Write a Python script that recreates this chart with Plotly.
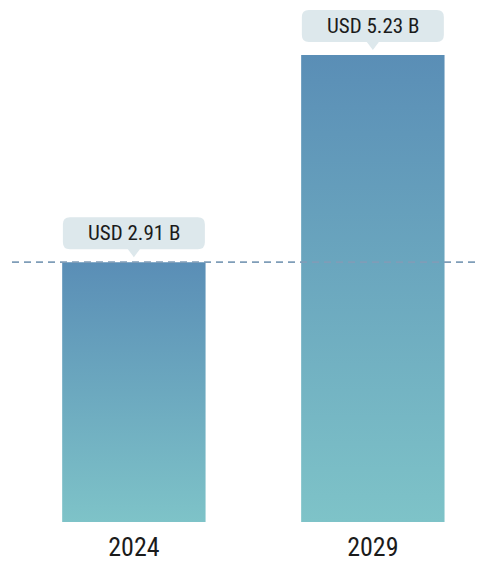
import plotly.graph_objects as go

years = ["2024", "2029"]
values = [2.91, 5.23]
labels = ["USD 2.91 B", "USD 5.23 B"]

BAR_TOP = "#5a8eb6"
BAR_BOTTOM = "#7ec3c8"
BOX_BG = "#dde8ec"
FONT = "Liberation Sans Narrow, Roboto Condensed, Roboto, sans-serif"

fig = go.Figure()
half = 0.3
for i, (yr, v) in enumerate(zip(years, values)):
    fig.add_trace(go.Scatter(
        x=[i - half, i - half, i + half, i + half, i - half],
        y=[0, v, v, 0, 0],
        mode="lines",
        line=dict(width=0),
        fill="toself",
        fillgradient=dict(type="vertical",
                          colorscale=[[0, BAR_BOTTOM], [1, BAR_TOP]]),
        hoverinfo="skip",
        showlegend=False,
        name=yr,
    ))

# reference dashed line at the first value
fig.add_shape(type="line", xref="paper", x0=0, x1=1, yref="y",
              y0=values[0], y1=values[0],
              line=dict(color="#7f9db8", width=1.6, dash="7px,5px"), layer="above")

# label callouts (rounded box + pointer), pixel-sized, anchored on bar tops
w, b, t, r, pw, ph = 71, 13, 45, 7, 6, 8
path = (f"M {-w + r},{b} L {-pw},{b} L 0,{b - ph} L {pw},{b} L {w - r},{b} "
        f"Q {w},{b} {w},{b + r} L {w},{t - r} Q {w},{t} {w - r},{t} "
        f"L {-w + r},{t} Q {-w},{t} {-w},{t - r} L {-w},{b + r} Q {-w},{b} {-w + r},{b} Z")
for i, (v, lab) in enumerate(zip(values, labels)):
    fig.add_shape(type="path", xref="x", yref="y", xsizemode="pixel", ysizemode="pixel",
                  xanchor=i, yanchor=v, path=path, fillcolor=BOX_BG,
                  line=dict(width=0), layer="above")
    fig.add_annotation(x=i, y=v, xref="x", yref="y", text=lab, showarrow=False,
                       yshift=29, font=dict(family=FONT, size=21, color="#1b1b1b"))

fig.update_layout(
    width=479, height=554,
    margin=dict(l=4, r=9, t=0, b=40),
    paper_bgcolor="white", plot_bgcolor="white",
    xaxis=dict(range=[-0.51, 1.44], tickvals=[0, 1], ticktext=years,
               showgrid=False, zeroline=False, showline=False, ticks="",
               ticklabelstandoff=7,
               tickfont=dict(family=FONT, size=26, color="#1b1b1b")),
    yaxis=dict(range=[0, 5.756], visible=False, showgrid=False, zeroline=False),
    font=dict(family=FONT),
)

fig.write_html("out.html")
